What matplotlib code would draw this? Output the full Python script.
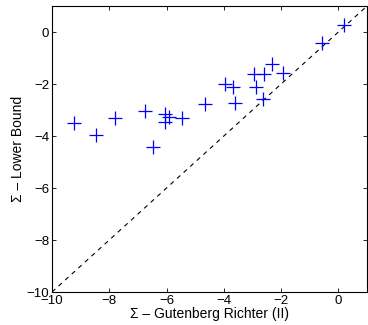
import matplotlib
matplotlib.use("Agg")
import matplotlib.pyplot as plt

# Sigma estimates: Gutenberg Richter (II) vs lower bound
gr_sigma = [-9.23, -8.47, -7.80, -6.74, -6.47, -6.04, -6.04, -5.92, -5.46,
            -4.66, -3.97, -3.68, -3.62, -2.93, -2.87, -2.64, -2.58, -2.31,
            -1.94, -0.58, 0.21]
lb_sigma = [-3.49, -3.96, -3.32, -3.03, -4.43, -3.15, -3.45, -3.28, -3.31,
            -2.76, -2.01, -2.12, -2.74, -1.60, -2.13, -2.59, -1.62, -1.23,
            -1.59, -0.44, 0.26]
diag = [-10, 1]
ticks = list(range(-10, 1, 2))

plt.rcParams["font.family"] = ["Liberation Sans", "DejaVu Sans"]

fig = plt.figure(figsize=(3.68, 3.25), dpi=100)
ax = fig.add_axes([0.1413, 0.1015, 0.856, 0.88])

ax.plot(diag, diag, "k--", linewidth=0.8, dashes=(4, 4))
ax.plot(gr_sigma, lb_sigma, "+", color="#0000ff", markersize=10,
        markeredgewidth=0.9, linestyle="none")

ax.set_xlim(-10, 1)
ax.set_ylim(-10, 1)
ax.set_xticks(ticks)
ax.set_yticks(ticks)
labels = [f"\u2212{abs(v)}" if v < 0 else str(v) for v in ticks]
ax.set_xticklabels(labels)
ax.set_yticklabels(labels)
ax.tick_params(direction="in", top=True, right=True, labelsize=9.5,
               length=3, width=0.6, pad=2)
for s in ax.spines.values():
    s.set_linewidth(0.8)

ax.set_xlabel("\u03a3 \u2013 Gutenberg Richter (II)", fontsize=10, labelpad=0)
ax.set_ylabel("\u03a3 \u2013 Lower Bound", fontsize=10, labelpad=1)

fig.savefig("out.png", dpi=100, facecolor="white")
